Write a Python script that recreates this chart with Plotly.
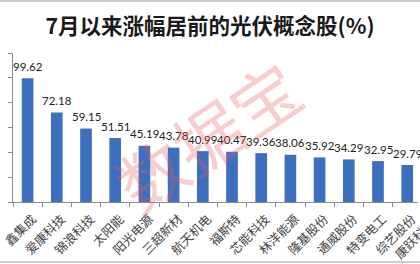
import plotly.graph_objects as go

title_text = "7月以来涨幅居前的光伏概念股(%)"
categories = ["鑫集成", "爱康科技", "锦浪科技", "太阳能", "阳光电源", "三超新材", "航天机电",
              "福斯特", "芯能科技", "林洋能源", "隆基股份", "通威股份", "特变电工", "综艺股份"]
values = [99.62, 72.18, 59.15, 51.51, 45.19, 43.78, 40.99,
          40.47, 39.36, 38.06, 35.92, 34.29, 32.95, 29.79]
cut_off_category = "康跃科技"
watermark = "数据宝"

x_range = [-0.5, 13.37]
y_range = [0, 120]
y_ticks = [0, 20, 40, 60, 80, 100, 120]

bar_color = "#3d6fbf"
axis_color = "#8c8c8c"
label_color = "#444444"
cjk = "Noto Sans CJK SC"

fig = go.Figure()
fig.add_trace(go.Bar(
    x=categories, y=values, width=0.4,
    marker=dict(color=bar_color, line=dict(width=0)),
    hoverinfo="skip",
))

annotations = []
for c, v in zip(categories, values):
    annotations.append(dict(
        x=c, y=v, xref="x", yref="y", text=f"{v:.2f}", showarrow=False,
        yanchor="middle", yshift=12,
        font=dict(family="Lato, Liberation Sans, sans-serif", size=11.5, color="#222222"),
    ))

# partially visible label of the next (cut-off) category
frac = (len(categories) - x_range[0]) / (x_range[1] - x_range[0])
annotations.append(dict(
    x=frac, y=0, xref="paper", yref="paper", text=cut_off_category, showarrow=False,
    xanchor="right", yanchor="top", xshift=6, yshift=-8, textangle=-45,
    font=dict(family=cjk, size=12.5, color=label_color),
))

annotations.append(dict(
    x=0.48, y=0.45, xref="paper", yref="paper", text=watermark, showarrow=False,
    textangle=-34, font=dict(family=cjk, size=68, color="rgba(232,90,90,0.30)"),
))

fig.update_layout(
    width=420, height=264,
    margin=dict(l=11, r=0, t=53, b=62),
    paper_bgcolor="white", plot_bgcolor="white",
    showlegend=False,
    title=dict(
        text=title_text, x=0.5, xanchor="center", y=0.9, yanchor="middle",
        xref="container", yref="container",
        font=dict(family=cjk, size=21.5, color="#1a1a1a", weight="bold"),
    ),
    xaxis=dict(
        range=x_range, showline=True, linecolor=axis_color, linewidth=1,
        ticks="outside", ticklen=4, tickcolor=axis_color, tickson="boundaries",
        tickangle=-45, tickfont=dict(family=cjk, size=12.5, color=label_color),
        ticklabelshift=5, ticklabelstandoff=4,
        showgrid=False, zeroline=False, fixedrange=True,
    ),
    yaxis=dict(
        range=y_range, tickvals=y_ticks, showticklabels=False,
        showline=True, linecolor=axis_color, linewidth=1,
        ticks="outside", ticklen=4, tickcolor=axis_color,
        showgrid=False, zeroline=False, fixedrange=True,
    ),
    annotations=annotations,
    shapes=[
        dict(type="line", xref="paper", yref="paper", x0=-0.05, x1=1.05,
             y0=1 + 52 / 149, y1=1 + 52 / 149, line=dict(color="#bbbbbb", width=1.5)),
        dict(type="line", xref="paper", yref="paper", x0=-0.05, x1=1.05,
             y0=-60 / 149, y1=-60 / 149, line=dict(color="#bbbbbb", width=1.5)),
    ],
)

fig.write_html("out.html", config={"displayModeBar": False})
